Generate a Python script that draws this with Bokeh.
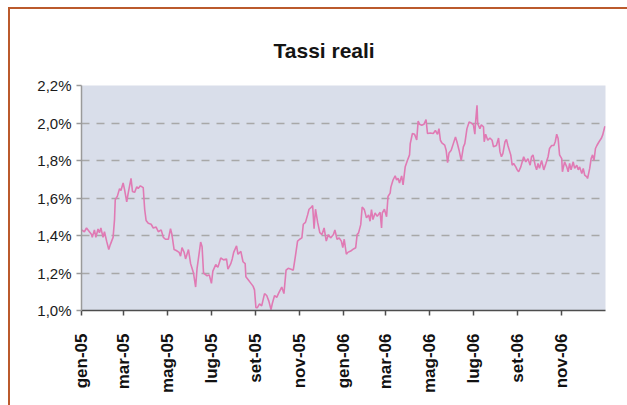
import math
from bokeh.plotting import figure
from bokeh.models import FixedTicker, CustomJSTickFormatter, Range1d, ColumnDataSource
from bokeh.embed import file_html
from bokeh.resources import INLINE

titolo = "Tassi reali"

# giorni dal 1 gennaio 2005
giorni = [
    0, 4, 7, 11, 14, 15, 18, 20, 23, 25, 27, 30, 32, 35, 38, 40, 44, 46, 47, 50,
    53, 55, 58, 60, 63, 65, 69, 71, 74, 77, 79, 82, 86, 88, 90, 93, 97, 100, 104, 107,
    111, 114, 117,
    121, 124, 126, 129, 132, 136, 138, 140, 143, 145, 149, 152, 154, 156, 159, 161, 163, 166,
    168, 170, 175, 178, 181, 183, 187, 190, 194, 198, 202, 204, 208, 210, 212, 216, 218, 222,
    225, 228, 229, 232, 235, 239, 241, 243,
    245, 248, 251, 255, 258, 261, 264, 266, 269, 272, 275, 279, 282, 285, 288, 292, 295, 298,
    301, 304, 307, 309, 312, 315, 317, 320, 322, 324, 326, 329, 332, 335, 338, 341, 344, 347,
    351, 353, 356, 359, 362, 364, 366, 369,
    371, 375, 378, 382, 384, 386, 389, 391, 394, 397, 400, 402, 404, 406, 409, 412, 416, 418,
    419, 422, 425, 427, 430, 431, 434, 437, 439, 441, 443, 446, 448, 451, 454, 457, 458, 461,
    464, 467, 469, 471, 474, 477, 480, 482, 486, 490, 493, 496, 498, 500, 502, 506, 508, 510,
    512, 515, 518, 521, 523, 526, 529, 532, 534, 537, 540, 543,
    546, 548, 549, 551, 552, 555, 557, 560, 561, 563, 566, 569, 572, 574, 578, 581, 583, 585,
    587, 590, 592, 594, 598, 600, 602, 605, 607, 609, 612, 614, 616, 619, 622, 625, 627, 629,
    632, 634, 636, 638, 641, 644, 647, 650, 652, 655, 658, 660, 662, 664, 666, 669, 670, 673,
    676, 678, 680, 682, 685, 687, 690, 692, 694, 697, 699, 701, 704, 705, 708, 710, 712, 714,
    716, 718, 721, 724, 726, 729, 730,
]

# tasso reale, in %
tassi = [
    1.43, 1.42, 1.44, 1.42, 1.405, 1.39, 1.43, 1.39, 1.435, 1.415, 1.44, 1.39, 1.42, 1.37, 1.325, 1.35, 1.39, 1.485, 1.59, 1.61,
    1.65, 1.64, 1.68, 1.645, 1.58, 1.625, 1.705, 1.635, 1.63, 1.66, 1.65, 1.665, 1.655, 1.54, 1.48, 1.465, 1.46, 1.44, 1.445, 1.42,
    1.43, 1.39, 1.38,
    1.38, 1.436, 1.405, 1.325, 1.32, 1.31, 1.29, 1.335, 1.31, 1.275, 1.325, 1.25, 1.225, 1.20, 1.125, 1.225, 1.28, 1.365,
    1.34, 1.20, 1.185, 1.19, 1.145, 1.21, 1.245, 1.23, 1.28, 1.27, 1.275, 1.22, 1.25, 1.275, 1.31, 1.345, 1.30, 1.315,
    1.26, 1.25, 1.18, 1.165, 1.15, 1.13, 1.11, 1.015,
    1.015, 1.035, 1.025, 1.09, 1.08, 1.05, 1.005, 1.04, 1.08, 1.07, 1.095, 1.125, 1.09, 1.215, 1.225, 1.22, 1.215, 1.29,
    1.37, 1.38, 1.387, 1.46, 1.47, 1.51, 1.54, 1.55, 1.56, 1.436, 1.54, 1.47, 1.415, 1.405, 1.44, 1.37, 1.405, 1.387,
    1.405, 1.43, 1.38, 1.387, 1.37, 1.335, 1.38, 1.30,
    1.31, 1.317, 1.326, 1.335, 1.405, 1.414, 1.458, 1.552, 1.538, 1.494, 1.51, 1.476, 1.538, 1.485, 1.52, 1.502, 1.524, 1.44,
    1.52, 1.54, 1.50, 1.608, 1.626, 1.658, 1.696, 1.718, 1.696, 1.705, 1.68, 1.718, 1.67, 1.767, 1.80, 1.83, 1.89, 1.944,
    1.94, 1.91, 2.01, 1.993, 1.988, 1.993, 2.018, 1.944, 1.947, 1.944, 1.96, 1.94, 1.97, 1.908, 1.894, 1.882, 1.855, 1.788,
    1.84, 1.855, 1.89, 1.925, 1.90, 1.855, 1.80, 1.873, 1.89, 1.97, 2.005, 2.0,
    1.99, 1.94, 2.005, 2.094, 1.996, 1.97, 1.99, 1.98, 1.90, 1.94, 1.908, 1.92, 1.908, 1.873, 1.88, 1.92, 1.846, 1.82,
    1.837, 1.90, 1.913, 1.88, 1.83, 1.775, 1.784, 1.766, 1.75, 1.74, 1.766, 1.793, 1.82, 1.793, 1.81, 1.775, 1.82, 1.83,
    1.775, 1.75, 1.784, 1.758, 1.80, 1.75, 1.784, 1.82, 1.864, 1.88, 1.88, 1.90, 1.94, 1.917, 1.83, 1.81, 1.74, 1.793,
    1.766, 1.74, 1.784, 1.75, 1.793, 1.758, 1.775, 1.75, 1.766, 1.73, 1.758, 1.722, 1.713, 1.704, 1.758, 1.81, 1.83, 1.80,
    1.864, 1.88, 1.90, 1.917, 1.935, 1.98, 1.98,
]

tick_giorni = [0, 59, 120, 181, 243, 304, 365, 424, 485, 546, 608, 669]
tick_etichette = ["gen-05", "mar-05", "mag-05", "lug-05", "set-05", "nov-05",
                  "gen-06", "mar-06", "mag-06", "lug-06", "set-06", "nov-06"]
tick_tassi = [1.0, 1.2, 1.4, 1.6, 1.8, 2.0, 2.2]

assert len(giorni) == len(tassi)

source = ColumnDataSource(data=dict(giorno=giorni, tasso=tassi))

p = figure(width=627, height=405, output_backend="svg", toolbar_location=None,
           x_range=Range1d(0, 730), y_range=Range1d(1.0, 2.2),
           min_border_left=81, min_border_right=22, min_border_top=85, min_border_bottom=95)

# cornice esterna (solo lati sinistro e superiore sono visibili)
p.border_fill_color = None
p.styles = {"background-color": "white",
            "box-shadow": "inset 8px 7px 0 0 white, inset 10px 9px 0 0 #bb5a2c"}

p.title.text = titolo
p.title.text_font = "Liberation Sans"
p.title.text_font_size = "21px"
p.title.text_font_style = "bold"
p.title.text_color = "#141414"
p.title.align = "left"
p.title.offset = 192
p.title.standoff = 47

p.background_fill_color = "#d9deea"
p.outline_line_color = None

p.xgrid.visible = False
p.ygrid.ticker = FixedTicker(ticks=tick_tassi[1:])
p.ygrid.grid_line_color = "#a8a8a8"
p.ygrid.grid_line_width = 1.5
p.ygrid.grid_line_dash = "8 7"

xa = p.xaxis[0]
xa.ticker = FixedTicker(ticks=tick_giorni)
xa.formatter = CustomJSTickFormatter(args=dict(t=tick_giorni, l=tick_etichette),
                                     code="const i = t.indexOf(tick); return i < 0 ? '' : l[i];")
xa.major_label_orientation = math.pi / 2
xa.major_label_text_font = "Liberation Sans"
xa.major_label_text_font_size = "17px"
xa.major_label_text_font_style = "bold"
xa.major_label_text_color = "#111111"
xa.major_label_standoff = 18
xa.axis_line_color = "#4d4d4d"
xa.axis_line_width = 1.5
xa.major_tick_line_color = "#4d4d4d"
xa.major_tick_line_width = 1.5
xa.major_tick_out = 5
xa.major_tick_in = 0
xa.minor_tick_line_color = None

ya = p.yaxis[0]
ya.ticker = FixedTicker(ticks=tick_tassi)
ya.formatter = CustomJSTickFormatter(code="return tick.toFixed(1).replace('.', ',') + '%';")
ya.major_label_text_font = "Liberation Sans"
ya.major_label_text_font_size = "15px"
ya.major_label_text_color = "#1a1a1a"
ya.major_label_standoff = 5
ya.axis_line_color = "#9a9a9a"
ya.axis_line_width = 1.5
ya.major_tick_line_color = "#9a9a9a"
ya.major_tick_line_width = 1.5
ya.major_tick_out = 5
ya.major_tick_in = 0
ya.minor_tick_line_color = None

p.line("giorno", "tasso", source=source, line_color="#e07ab4", line_width=1.6)

open("out.html", "w").write(file_html(p, INLINE))
